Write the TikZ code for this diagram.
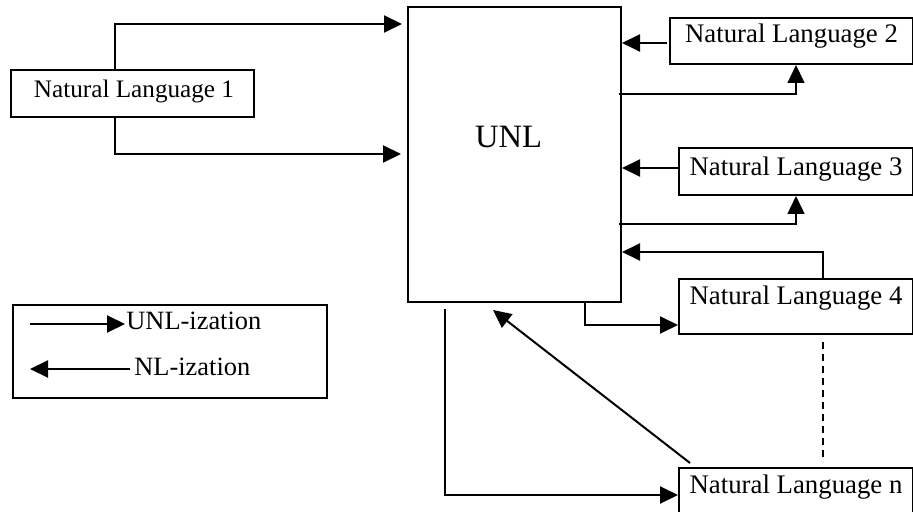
\documentclass[tikz,border=0pt]{standalone}
\usepackage{fontspec}
\setmainfont{Liberation Serif}
\usetikzlibrary{positioning,calc,arrows.meta}

\tikzset{
  langbox/.style={draw, line width=1pt, inner sep=0pt, anchor=north west,
    font=\fontsize{13.4}{15}\selectfont},
  uarrow/.style={line width=1pt, -{Triangle[length=9pt,width=8.5pt]}},
  legtext/.style={inner sep=0pt, anchor=base west, font=\fontsize{13.2}{15}\selectfont},
}

\begin{document}
\begin{tikzpicture}[x=0.5pt,y=-0.5pt]
  \useasboundingbox (0,0) rectangle (913,512);

  % boxes
  \node[langbox, minimum width=106.5pt, text height=70.5pt, text depth=77pt,
        font=\fontsize{16.3}{18}\selectfont] (unl) at (407,6) {\hspace*{-6pt}UNL};
  \node[langbox, minimum width=121.5pt, text height=14pt, text depth=9.5pt,
        font=\fontsize{12.6}{15}\selectfont] (nl1) at (10,69) {\hspace*{1.5pt}Natural Language 1};
  \node[langbox, minimum width=121.5pt, text height=12.5pt, text depth=10.5pt] (nl2) at (669,17) {Natural Language 2};
  \node[langbox, minimum width=117pt, text height=14pt, text depth=9.5pt] (nl3) at (678,147) {Natural Language 3};
  \node[langbox, minimum width=117pt, text height=13pt, text depth=14.5pt] (nl4) at (678,278) {Natural Language 4};
  \node[langbox, minimum width=117pt, text height=12.5pt, text depth=16.5pt] (nln) at (678,467) {Natural Language n};

  % language 1 -> UNL
  \draw[uarrow] ($(nl1.north west)+(105,0)$) |- ($(unl.north west)+(-5,18)$);
  \draw[uarrow] ($(nl1.south west)+(105,0)$) |- ($(unl.north west)+(-6,148)$);

  % languages 2 and 3
  \draw[uarrow] ($(nl2.north west)+(-2,26)$) -- ($(unl.north east)+(0,37)$);
  \draw[uarrow, line width=0.7pt] ($(unl.north east)+(-3,88)$) -| ($(nl2.south west)+(127,0)$);
  \draw[uarrow] ($(nl3.north west)+(0,21)$) -- ($(unl.north east)+(0,162)$);
  \draw[uarrow, line width=0.7pt] ($(unl.north east)+(-3,218)$) -| ($(nl3.south west)+(118,0)$);

  % language 4
  \draw[uarrow] ($(nl4.north west)+(145,0)$) |- ($(unl.north east)+(0,246)$);
  \draw[uarrow] ($(unl.south east)+(-37,0)$) |- ($(nl4.south west)+(0,-10)$);
  \draw[line width=0.8pt, dash pattern=on 3.5pt off 2.5pt] ($(nl4.south west)+(145,7)$) -- ($(nln.north west)+(145,-5)$);

  % language n
  \draw[uarrow] ($(nln.north west)+(12,-4)$) -- ($(unl.south west)+(86,7)$);
  \draw[uarrow] ($(unl.south west)+(38,6)$) |- ($(nln.north west)+(0,28)$);

  % legend
  \node[draw, line width=1pt, inner sep=0pt, anchor=north west,
        minimum width=157pt, minimum height=46.5pt] (legend) at (12,304) {};
  \node[legtext] (unlz) at (126,329) {UNL-ization};
  \node[legtext] (nlz) at (134,375) {NL-ization};
  \draw[uarrow] ($(unlz.base west)+(-96,-5)$) -- ($(unlz.base west)+(-1,-5)$);
  \draw[uarrow] ($(nlz.base west)+(-4,-6)$) -- ($(nlz.base west)+(-104,-6)$);
\end{tikzpicture}
\end{document}
